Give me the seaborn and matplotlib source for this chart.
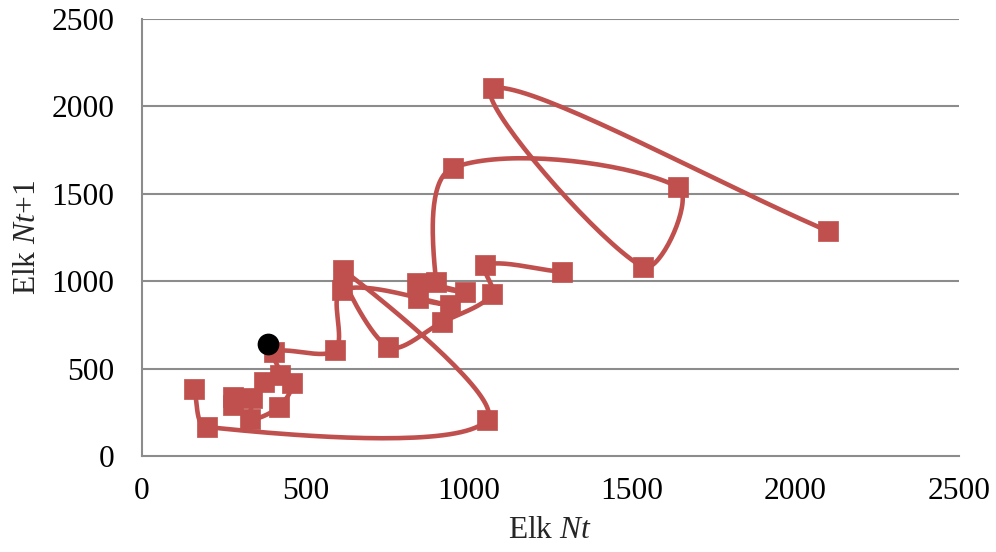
import numpy as np
import matplotlib
matplotlib.use("Agg")
import matplotlib.pyplot as plt
import seaborn as sns

# Elk abundance in year t against the following year, in time order.
# The record is split into two runs with a break between them.
run1_nt = [278, 278, 337, 330, 419, 459, 373, 422, 404, 591, 612, 942, 845, 841,
           988, 900, 951, 1640, 1533, 1074, 2099]
run1_nt1 = [292, 337, 332, 212, 280, 418, 423, 463, 595, 606, 950, 864, 904, 990,
            938, 995, 1648, 1539, 1081, 2105, 1287]
run2_nt = [1285, 1050, 1071, 918, 753, 615, 1056, 199, 159]
run2_nt1 = [1053, 1093, 925, 765, 624, 1064, 206, 166, 383]

# Highlighted year
current_nt = [386]
current_nt1 = [641]

tick_values = [0, 500, 1000, 1500, 2000, 2500]
tick_labels = ["0", "500", "1000", "1500", "2000", "2500"]

RED = "#C0504D"
GRID = "#8C8C8C"

# approximate pixels per data unit on each axis, used to weight segment lengths
SX, SY = 817 / 2500, 437 / 2500


def smooth_path(x, y, steps=40):
    """Cubic Bezier path through every point, tangents weighted by segment length."""
    p = np.column_stack([x, y]).astype(float)
    q = p * np.array([SX, SY])
    n = len(p)
    t = np.linspace(0, 1, steps)[:, None]
    pieces = []
    for i in range(n - 1):
        p1, p2 = p[i], p[i + 1]
        d12 = np.linalg.norm(q[i + 1] - q[i])
        if i > 0:
            d01 = np.linalg.norm(q[i] - q[i - 1])
            c1 = p1 + (p2 - p[i - 1]) * d12 / (d01 + d12) / 3.0
        else:
            c1 = p1 + (p2 - p1) / 3.0
        if i + 2 < n:
            d23 = np.linalg.norm(q[i + 2] - q[i + 1])
            c2 = p2 - (p[i + 2] - p1) * d12 / (d12 + d23) / 3.0
        else:
            c2 = p2 - (p2 - p1) / 3.0
        seg = ((1 - t) ** 3) * p1 + 3 * ((1 - t) ** 2) * t * c1 \
            + 3 * (1 - t) * t ** 2 * c2 + t ** 3 * p2
        pieces.append(seg if i == 0 else seg[1:])
    path = np.vstack(pieces)
    return path[:, 0], path[:, 1]


sns.set_style("white")
plt.rcParams["font.family"] = ["Liberation Serif", "DejaVu Serif"]
plt.rcParams["mathtext.fontset"] = "custom"
plt.rcParams["mathtext.rm"] = "Liberation Serif"
plt.rcParams["mathtext.it"] = "Liberation Serif:italic"

fig = plt.figure(figsize=(9.96, 5.52), dpi=100)
ax = fig.add_axes([142 / 996, 1 - 456 / 552, 817 / 996, 437 / 552])

for xs, ys in [(run1_nt, run1_nt1), (run2_nt, run2_nt1)]:
    cx, cy = smooth_path(xs, ys)
    sns.lineplot(x=cx, y=cy, sort=False, estimator=None, color=RED,
                 linewidth=3.3, ax=ax, zorder=3)
    sns.scatterplot(x=xs, y=ys, marker="s", s=14.5 ** 2, color=RED,
                    edgecolor=RED, linewidth=0.5, ax=ax, zorder=4)

sns.scatterplot(x=current_nt, y=current_nt1, marker="o", s=14.5 ** 2,
                color="black", edgecolor="black", ax=ax, zorder=5)

ax.set_xlim(0, 2500)
ax.set_ylim(0, 2500)
ax.set_xticks(tick_values)
ax.set_xticklabels(tick_labels)
ax.set_yticks(tick_values)
ax.set_yticklabels(tick_labels)

for v in tick_values[1:]:
    ax.axhline(v, color=GRID, linewidth=1.5, zorder=1)

for side in ["top", "right"]:
    ax.spines[side].set_visible(False)
for side in ["left", "bottom"]:
    ax.spines[side].set_color(GRID)
    ax.spines[side].set_linewidth(1.5)

ax.tick_params(axis="both", direction="out", length=6, width=1.5,
               color=GRID, labelsize=22.7, labelcolor="black")
ax.tick_params(axis="y", pad=14)
ax.tick_params(axis="x", pad=9)

ax.set_xlabel(r"Elk $Nt$", fontsize=22.7)
ax.set_ylabel(r"Elk $Nt$+1", fontsize=22.7)
ax.xaxis.set_label_coords(0.5, -0.137)
ax.yaxis.set_label_coords(-0.1224, 0.5)

fig.savefig("out.png", dpi=100)
